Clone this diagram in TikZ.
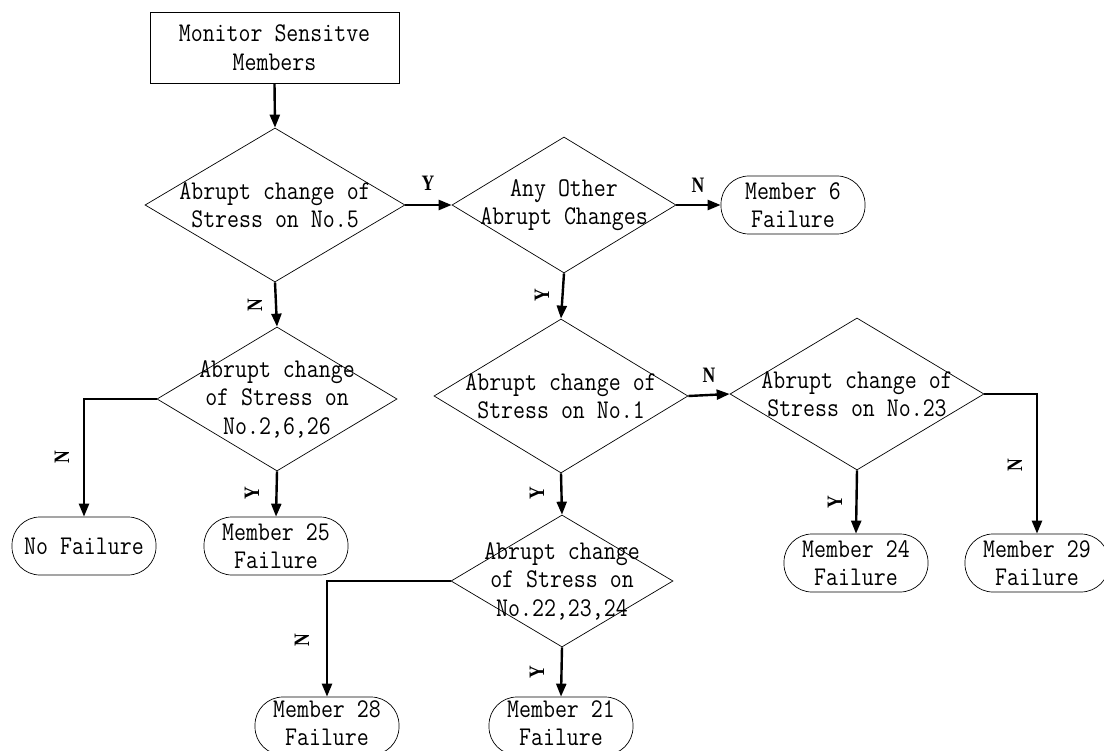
\documentclass[tikz,border=0pt]{standalone}
\usepackage{fontspec}
\setmonofont[FakeStretch=0.86]{Latin Modern Mono}
\newfontfamily\lblfont[FakeStretch=0.8]{Liberation Serif}
\usetikzlibrary{shapes.geometric,arrows.meta}
\begin{document}
\begin{tikzpicture}[x=1pt,y=1pt,
  every node/.style={font=\ttfamily\fontsize{27}{28.5}\selectfont},
  diam/.style={diamond, draw, line width=0.7pt, inner sep=0pt},
  dtext/.style={align=center, inner sep=0pt},
  term/.style={draw, line width=0.7pt, rounded corners=28pt, minimum width=144pt, minimum height=58pt, align=center, inner sep=0pt},
  conn/.style={line width=2.4pt, -{Triangle[length=13pt,width=10pt]}},
  lbl/.style={font=\lblfont\fontsize{22}{22}\selectfont\bfseries, inner sep=0pt},
  rlbl/.style={lbl, rotate=90}]
\useasboundingbox (0,0) rectangle (1104,-751);

\node[draw, line width=0.7pt, minimum width=249pt, minimum height=71pt, align=center, inner sep=0pt] (s) at (274.5,-47.5) {Monitor Sensitve\\Members};

\node[diam, minimum width=260pt, minimum height=154pt] (d1) at (275,-205) {};
\node[dtext] (d1t) at (d1.center) {Abrupt change of\\Stress on No.5};

\node[diam, minimum width=224pt, minimum height=136pt] (d2) at (564,-205) {};
\node[dtext] (d2t) at (d2.center) {Any Other\\Abrupt Changes};

\node[term] (m6) at (793,-205) {Member 6\\Failure};

\node[diam, minimum width=254pt, minimum height=154pt] (d3) at (561,-396) {};
\node[dtext] (d3t) at (d3.center) {Abrupt change of\\Stress on No.1};

\node[diam, minimum width=254pt, minimum height=152pt] (d4) at (857,-394) {};
\node[dtext] (d4t) at (d4.center) {Abrupt change of\\Stress on No.23};

\node[diam, minimum width=240pt, minimum height=144pt] (d5) at (277,-399) {};
\node[dtext] (d5t) at (d5.center) {Abrupt change\\of Stress on\\No.2,6,26};

\node[diam, minimum width=222pt, minimum height=132pt] (d6) at (562,-581) {};
\node[dtext] (d6t) at (d6.center) {Abrupt change\\of Stress on\\No.22,23,24};

\node[term] (nf) at (84,-546) {No Failure};
\node[term] (m25) at (276,-546) {Member 25\\Failure};
\node[term] (m24) at (856,-563) {Member 24\\Failure};
\node[term] (m29) at (1037,-563) {Member 29\\Failure};
\node[term] (m28) at (327,-726) {};
\node[dtext] (m28t) at (327,-723) {Member 28\\Failure};
\node[term] (m21) at (561,-726) {};
\node[dtext] (m21t) at (561,-723) {Member 21\\Failure};

\draw[conn] (s.south) -- (d1.north);
\draw[conn] (d1.east) -- (d2.west);
\draw[conn] (d2.east) -- (m6.west);
\draw[conn] (d2.south) -- (d3.north);
\draw[conn] (d3.east) -- (d4.west);
\draw[conn] (d4.east) -| (m29.north);
\draw[conn] (d4.south) -- (m24.north);
\draw[conn] (d1.south) -- (d5.north);
\draw[conn] (d5.west) -| (nf.north);
\draw[conn] (d5.south) -- (m25.north);
\draw[conn] (d3.south) -- (d6.north);
\draw[conn] (d6.west) -| (m28.north);
\draw[conn] (d6.south) -- (m21.north);

\node[lbl] (l1) at (428,-183) {Y};
\node[lbl] (l2) at (698,-185) {N};
\node[rlbl] (l3) at (542,-295) {Y};
\node[lbl] (l4) at (709,-375) {N};
\node[rlbl] (l5) at (1015,-465) {N};
\node[rlbl] (l6) at (835,-502) {Y};
\node[rlbl] (l7) at (255,-305) {N};
\node[rlbl] (l8) at (62,-457) {N};
\node[rlbl] (l9) at (252,-493) {Y};
\node[rlbl] (l10) at (537,-493) {Y};
\node[rlbl] (l11) at (302,-640) {N};
\node[rlbl] (l12) at (537,-672) {Y};
\end{tikzpicture}
\end{document}
